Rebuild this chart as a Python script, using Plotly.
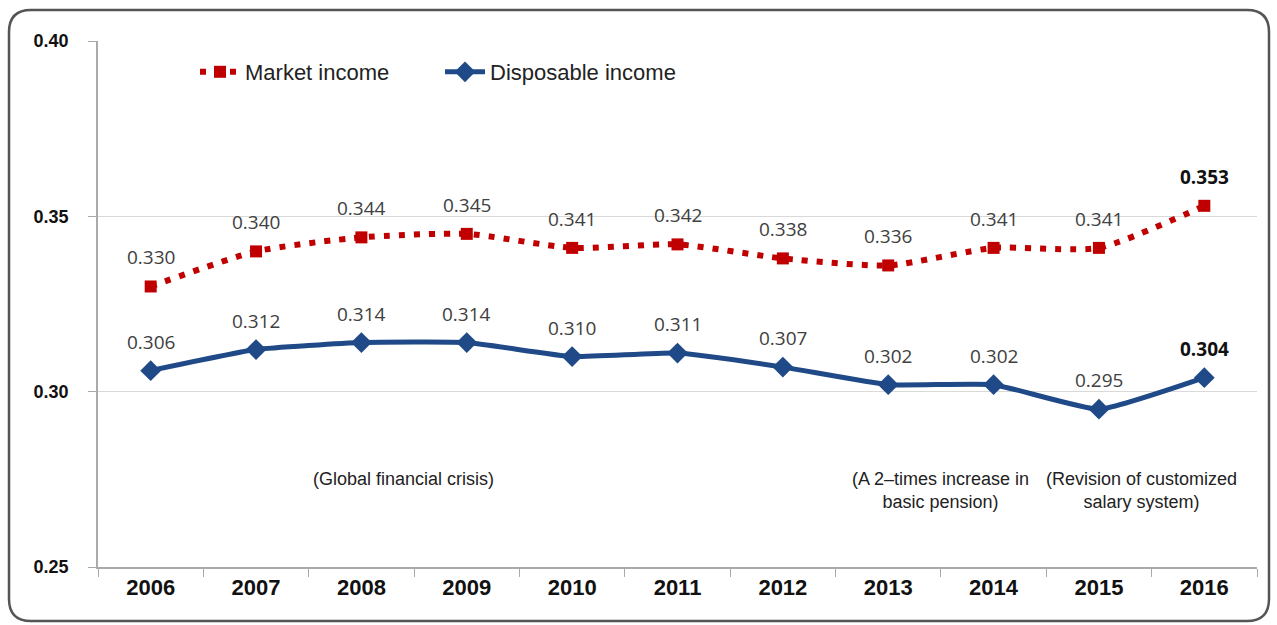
import plotly.graph_objects as go

years = ["2006", "2007", "2008", "2009", "2010", "2011", "2012", "2013", "2014", "2015", "2016"]
market_income = [0.330, 0.340, 0.344, 0.345, 0.341, 0.342, 0.338, 0.336, 0.341, 0.341, 0.353]
disposable_income = [0.306, 0.312, 0.314, 0.314, 0.310, 0.311, 0.307, 0.302, 0.302, 0.295, 0.304]
y_ticks = [0.25, 0.30, 0.35, 0.40]
notes = ["(Global financial crisis)",
         "(A 2\u2013times increase in<br>basic pension)",
         "(Revision of customized<br>salary system)"]
note_pos = [2.4, 7.5, 9.4]

RED = "#C00000"
BLUE = "#1F4A87"
NARROW = "Liberation Sans Narrow, Arial Narrow, Liberation Sans, Arial"

W, H = 1277, 625
L, R, T, B = 98, 20, 41, 58
PW, PH = W - L - R, H - T - B

def px(x):
    return (x - L) / PW

def py(y):
    return (H - B - y) / PH

fig = go.Figure()
fig.add_trace(go.Scatter(
    x=years, y=market_income, name="Market income", mode="lines+markers",
    line=dict(color=RED, width=6, dash="6px,9px", shape="spline", smoothing=0.6),
    marker=dict(symbol="square", size=12, color=RED),
))
fig.add_trace(go.Scatter(
    x=years, y=disposable_income, name="Disposable income", mode="lines+markers",
    line=dict(color=BLUE, width=5, shape="spline", smoothing=0.4),
    marker=dict(symbol="diamond", size=16, color=BLUE),
))

anns = []
for series in (market_income, disposable_income):
    n = len(series)
    for i, v in enumerate(series):
        last = i == n - 1
        txt = f"{v:.3f}"
        anns.append(dict(
            x=i, y=v, xref="x", yref="y",
            text=f"<b>{txt}</b>" if last else txt, showarrow=False,
            yshift=29, font=dict(family="Open Sans, Noto Sans", size=19,
                                 color="#111" if last else "#404040"),
        ))
for pos, txt in zip(note_pos, notes):
    anns.append(dict(
        x=pos, y=0.2785, xref="x", yref="y", text=txt, showarrow=False,
        yanchor="top", font=dict(family=NARROW, size=18, color="#222"), align="center",
    ))

# rounded frame
x0, x1, y0, y1, r = 9, 1269, 10, 621, 22
rx, ry = r / PW, r / PH
X0, X1, Y0, Y1 = px(x0), px(x1), py(y1), py(y0)
path = (f"M {X0+rx},{Y1} L {X1-rx},{Y1} Q {X1},{Y1} {X1},{Y1-ry} "
        f"L {X1},{Y0+ry} Q {X1},{Y0} {X1-rx},{Y0} L {X0+rx},{Y0} "
        f"Q {X0},{Y0} {X0},{Y0+ry} L {X0},{Y1-ry} Q {X0},{Y1} {X0+rx},{Y1} Z")

fig.update_layout(
    width=W, height=H,
    margin=dict(l=L, r=R, t=T, b=B),
    paper_bgcolor="white", plot_bgcolor="white",
    showlegend=True,
    legend=dict(orientation="h", x=px(195), y=py(72), xanchor="left", yanchor="middle",
                font=dict(family=NARROW, size=22, color="#222"), bgcolor="rgba(0,0,0,0)",
                itemwidth=40, tracegroupgap=0, entrywidth=190, entrywidthmode="pixels"),
    annotations=anns,
    shapes=[dict(type="path", path=path, xref="paper", yref="paper",
                 line=dict(color="#555", width=2.5), layer="below")],
    xaxis=dict(type="category", categoryorder="array", categoryarray=years,
               showline=True, linecolor="#aaa", linewidth=1.5, ticks="outside",
               tickson="boundaries", ticklen=8, tickcolor="#aaa", showgrid=False,
               tickfont=dict(family=NARROW, size=22, color="#111"),
               tickprefix="<b>", ticksuffix="</b>", range=[-0.5, 10.5]),
    yaxis=dict(range=[0.25, 0.40], tickvals=y_ticks,
               ticktext=[f"<b>{v:.2f}</b>" for v in y_ticks],
               showline=True, linecolor="#aaa", linewidth=1.5, ticks="outside",
               ticklen=8, tickcolor="#aaa", showgrid=True, gridcolor="#d9d9d9",
               gridwidth=1, zeroline=False, ticklabelstandoff=16,
               tickfont=dict(family="Liberation Sans, Arial", size=18, color="#111")),
)
fig.write_html("out.html")
